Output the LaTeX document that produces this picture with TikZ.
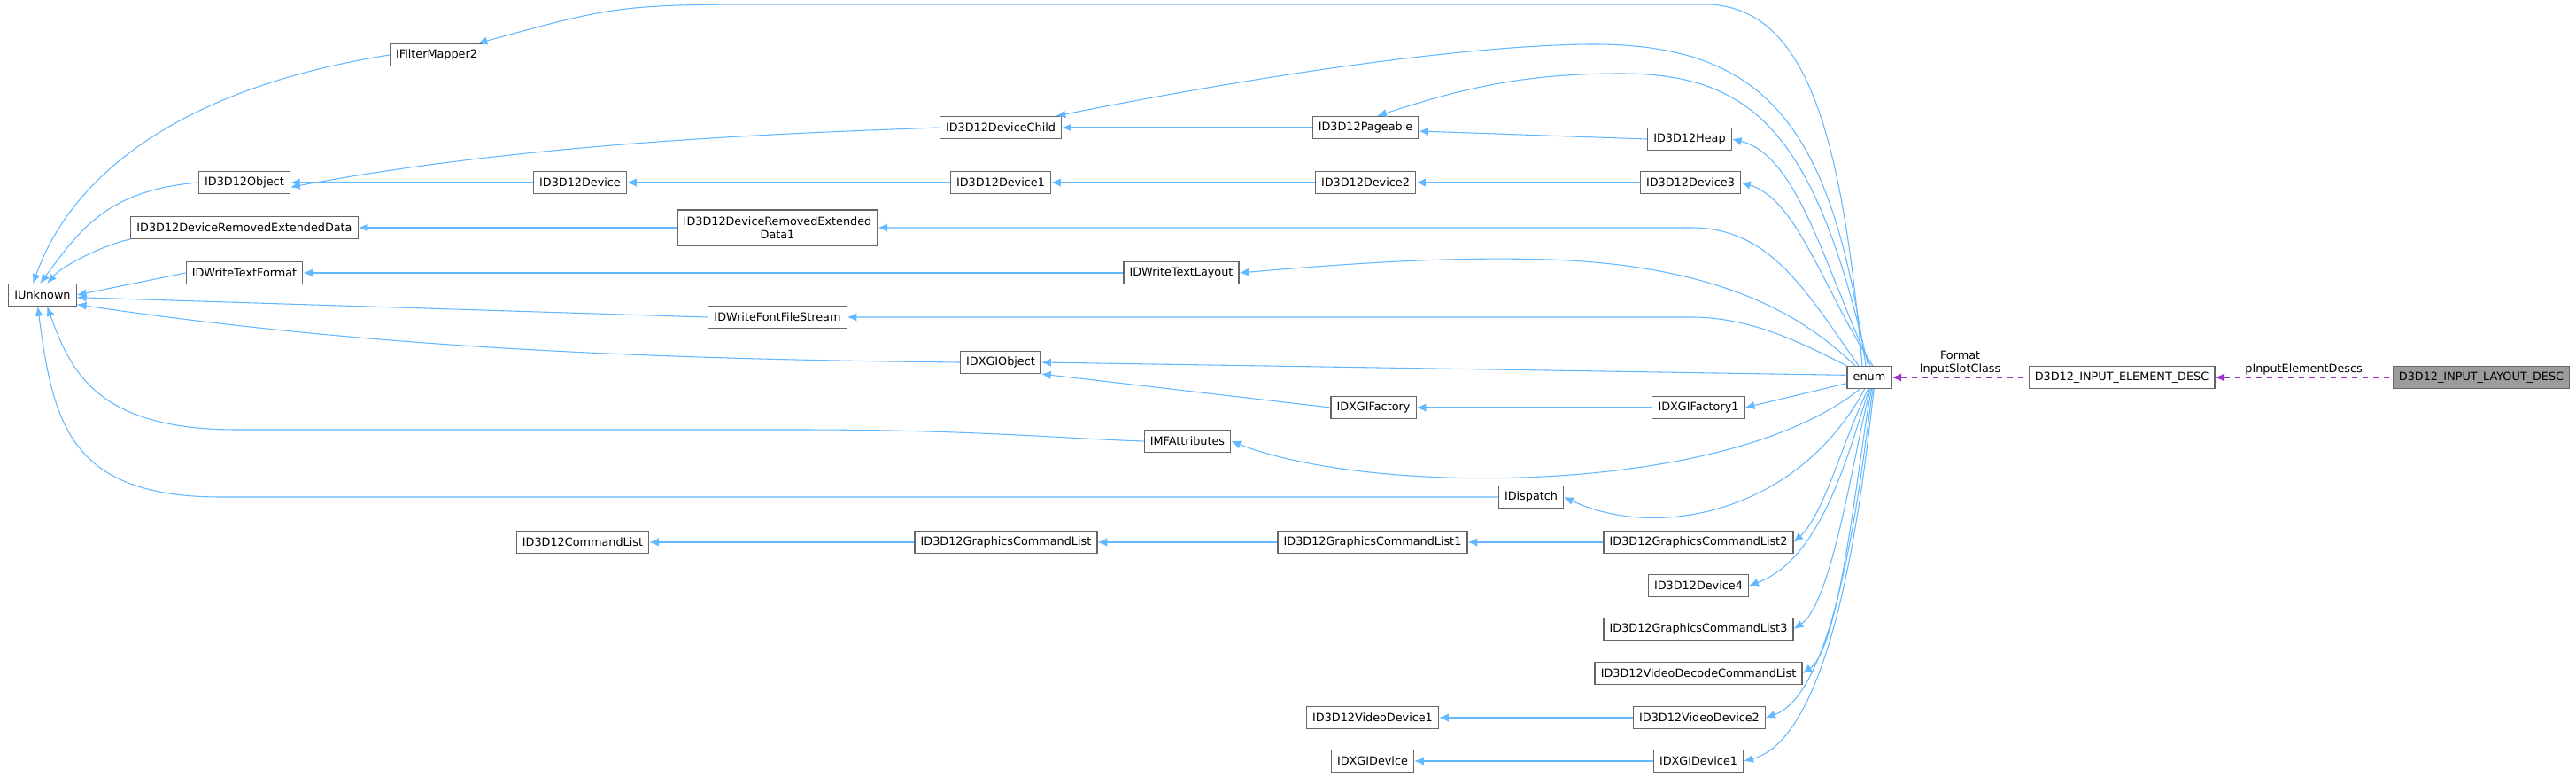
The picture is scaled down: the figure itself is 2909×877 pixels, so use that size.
\documentclass[tikz,border=0pt]{standalone}
\usepackage{fontspec}
\setmainfont{DejaVu Sans}
\usetikzlibrary{arrows.meta}
\definecolor{eb}{HTML}{63B8FF}
\definecolor{ep}{HTML}{9A32CD}
\definecolor{nb}{HTML}{666666}
\begin{document}
\begin{tikzpicture}[x=0.75pt,y=-0.75pt,
  n/.style={draw=nb,line width=0.9pt,fill=white,minimum height=18.75pt,inner xsep=5pt,font=\fontsize{9.6}{11.5}\selectfont,align=center},
  e/.style={draw=eb,line width=0.8pt,{Latex[length=8pt,width=7pt]}-},
  d/.style={draw=ep,line width=0.8pt,dash pattern=on 5pt off 4pt,{Latex[length=8pt,width=7pt]}-},
  lab/.style={font=\fontsize{9.6}{11}\selectfont,align=center,inner sep=1pt}]
\useasboundingbox (0,0) rectangle (2909,877);
\fill[white] (0,0) rectangle (2909,877);
% nodes
\node[n] (IU) at (48,333) {IUnknown};
\node[n] (IFM) at (493,62) {IFilterMapper2};
\node[n] (OBJ) at (276,206) {ID3D12Object};
\node[n] (DRED) at (276,257) {ID3D12DeviceRemovedExtendedData};
\node[n] (TF) at (276,308) {IDWriteTextFormat};
\node[n] (DEV) at (655,206) {ID3D12Device};
\node[n,minimum height=30pt] (DRED1) at (878,257) {ID3D12DeviceRemovedExtended\\Data1};
\node[n] (FFS) at (878,358) {IDWriteFontFileStream};
\node[n] (DC) at (1130,144) {ID3D12DeviceChild};
\node[n] (DEV1) at (1130,206) {ID3D12Device1};
\node[n] (DXO) at (1130,409) {IDXGIObject};
\node[n] (PAG) at (1542,144) {ID3D12Pageable};
\node[n] (DEV2) at (1542,206) {ID3D12Device2};
\node[n] (HEAP) at (1908,157) {ID3D12Heap};
\node[n] (DEV3) at (1909,206) {ID3D12Device3};
\node[n] (TL) at (1334,308) {IDWriteTextLayout};
\node[n] (FAC) at (1551,460) {IDXGIFactory};
\node[n] (FAC1) at (1918,460) {IDXGIFactory1};
\node[n] (MF) at (1341,498) {IMFAttributes};
\node[n] (DISP) at (1729,561) {IDispatch};
\node[n] (CL) at (658,612) {ID3D12CommandList};
\node[n] (GCL) at (1136,612) {ID3D12GraphicsCommandList};
\node[n] (GCL1) at (1550,612) {ID3D12GraphicsCommandList1};
\node[n] (GCL2) at (1918,612) {ID3D12GraphicsCommandList2};
\node[n] (DEV4) at (1918,661) {ID3D12Device4};
\node[n] (GCL3) at (1918,710) {ID3D12GraphicsCommandList3};
\node[n] (VDCL) at (1918,760) {ID3D12VideoDecodeCommandList};
\node[n] (VD1) at (1550,810) {ID3D12VideoDevice1};
\node[n] (VD2) at (1919,810) {ID3D12VideoDevice2};
\node[n] (XD) at (1550,859) {IDXGIDevice};
\node[n] (XD1) at (1918,859) {IDXGIDevice1};
\node[n] (EN) at (2111,426) {enum};
\node[n] (ED) at (2396,426) {D3D12\_INPUT\_ELEMENT\_DESC};
\node[n,fill=nb!65] (LD) at (2802,426) {D3D12\_INPUT\_LAYOUT\_DESC};
% inheritance to IUnknown
\draw[e] ([xshift=-8pt]IU.north) .. controls (80,200) and (200,100) .. (IFM.west);
\draw[e] ([xshift=-2pt]IU.north) .. controls (90,260) and (120,215) .. (OBJ.west);
\draw[e] ([xshift=4pt]IU.north) .. controls (70,300) and (120,275) .. (DRED.south west);
\draw[e] (IU.east) -- (TF.west);
\draw[e] ([yshift=-2pt]IU.east) -- (FFS.west);
\draw[e] ([yshift=-8pt]IU.east) .. controls (400,390) and (700,405) .. (DXO.west);
\draw[e] ([xshift=4pt]IU.south) .. controls (80,420) and (110,485) .. (268,485) -- (900,485) .. controls (1100,485) and (1200,495) .. (MF.west);
\draw[e] ([xshift=-4pt]IU.south) .. controls (60,480) and (80,561) .. (250,561) -- (DISP.west);
% other inheritance
\draw[e] ([yshift=-4pt]OBJ.east) .. controls (600,160) and (900,150) .. (DC.west);
\draw[e] (OBJ.east) -- (DEV.west);
\draw[e] (DEV.east) -- (DEV1.west);
\draw[e] (DEV1.east) -- (DEV2.west);
\draw[e] (DEV2.east) -- (DEV3.west);
\draw[e] (DC.east) -- (PAG.west);
\draw[e] ([yshift=-3pt]PAG.east) -- (HEAP.west);
\draw[e] (DRED.east) -- (DRED1.west);
\draw[e] (TF.east) -- (TL.west);
\draw[e] (DXO.south east) -- (FAC.west);
\draw[e] (FAC.east) -- (FAC1.west);
\draw[e] (CL.east) -- (GCL.west);
\draw[e] (GCL.east) -- (GCL1.west);
\draw[e] (GCL1.east) -- (GCL2.west);
\draw[e] (VD1.east) -- (VD2.west);
\draw[e] (XD.east) -- (XD1.west);
% enum references
\draw[e] ([xshift=-5pt]IFM.north east) .. controls (700,5) .. (900,5) -- (1930,5) .. controls (2040,10) and (2080,150) .. ([xshift=-6pt]EN.north);
\draw[e] ([xshift=-5pt]DC.north east) .. controls (1500,70) and (1700,50) .. (1800,50) .. controls (2000,50) and (2070,150) .. ([xshift=-3pt]EN.north);
\draw[e] ([xshift=10pt]PAG.north) .. controls (1650,100) and (1720,83) .. (1830,83) .. controls (1980,83) and (2050,150) .. ([xshift=-1pt]EN.north);
\draw[e] (HEAP.east) .. controls (2030,175) and (2060,300) .. ([xshift=1pt]EN.north);
\draw[e] (DEV3.east) .. controls (2030,225) and (2060,330) .. ([xshift=3pt]EN.north);
\draw[e] (DRED1.east) -- (1910,257) .. controls (2000,257) and (2040,330) .. ([xshift=-9pt]EN.north);
\draw[e] (TL.east) .. controls (1550,295) and (1650,290) .. (1750,293) .. controls (1950,300) and (2040,360) .. ([xshift=-12pt]EN.north);
\draw[e] (FFS.east) -- (1910,358) .. controls (1980,358) and (2040,390) .. (EN.north west);
\draw[e] (DXO.east) -- ([yshift=2pt]EN.west);
\draw[e] (FAC1.east) -- ([yshift=-5pt]EN.west);
\draw[e] (MF.east) .. controls (1550,560) and (1950,560) .. ([xshift=-8pt]EN.south);
\draw[e] (DISP.east) .. controls (1870,610) and (2030,580) .. ([xshift=-4pt]EN.south);
\draw[e] (GCL2.east) .. controls (2060,580) and (2080,500) .. ([xshift=-1pt]EN.south);
\draw[e] (DEV4.east) .. controls (2060,630) and (2090,500) .. (EN.south);
\draw[e] (GCL3.east) .. controls (2070,680) and (2095,500) .. ([xshift=1pt]EN.south);
\draw[e] (VDCL.east) .. controls (2080,730) and (2100,500) .. ([xshift=2pt]EN.south);
\draw[e] (VD2.east) .. controls (2080,780) and (2105,500) .. ([xshift=3pt]EN.south);
\draw[e] (XD1.east) .. controls (2080,830) and (2108,500) .. ([xshift=4pt]EN.south);
% member relations
\draw[d] (EN.east) -- node[lab,above=1pt] {Format\\InputSlotClass} (ED.west);
\draw[d] (ED.east) -- node[lab,above=1pt] {pInputElementDescs} (LD.west);
\end{tikzpicture}
\end{document}
